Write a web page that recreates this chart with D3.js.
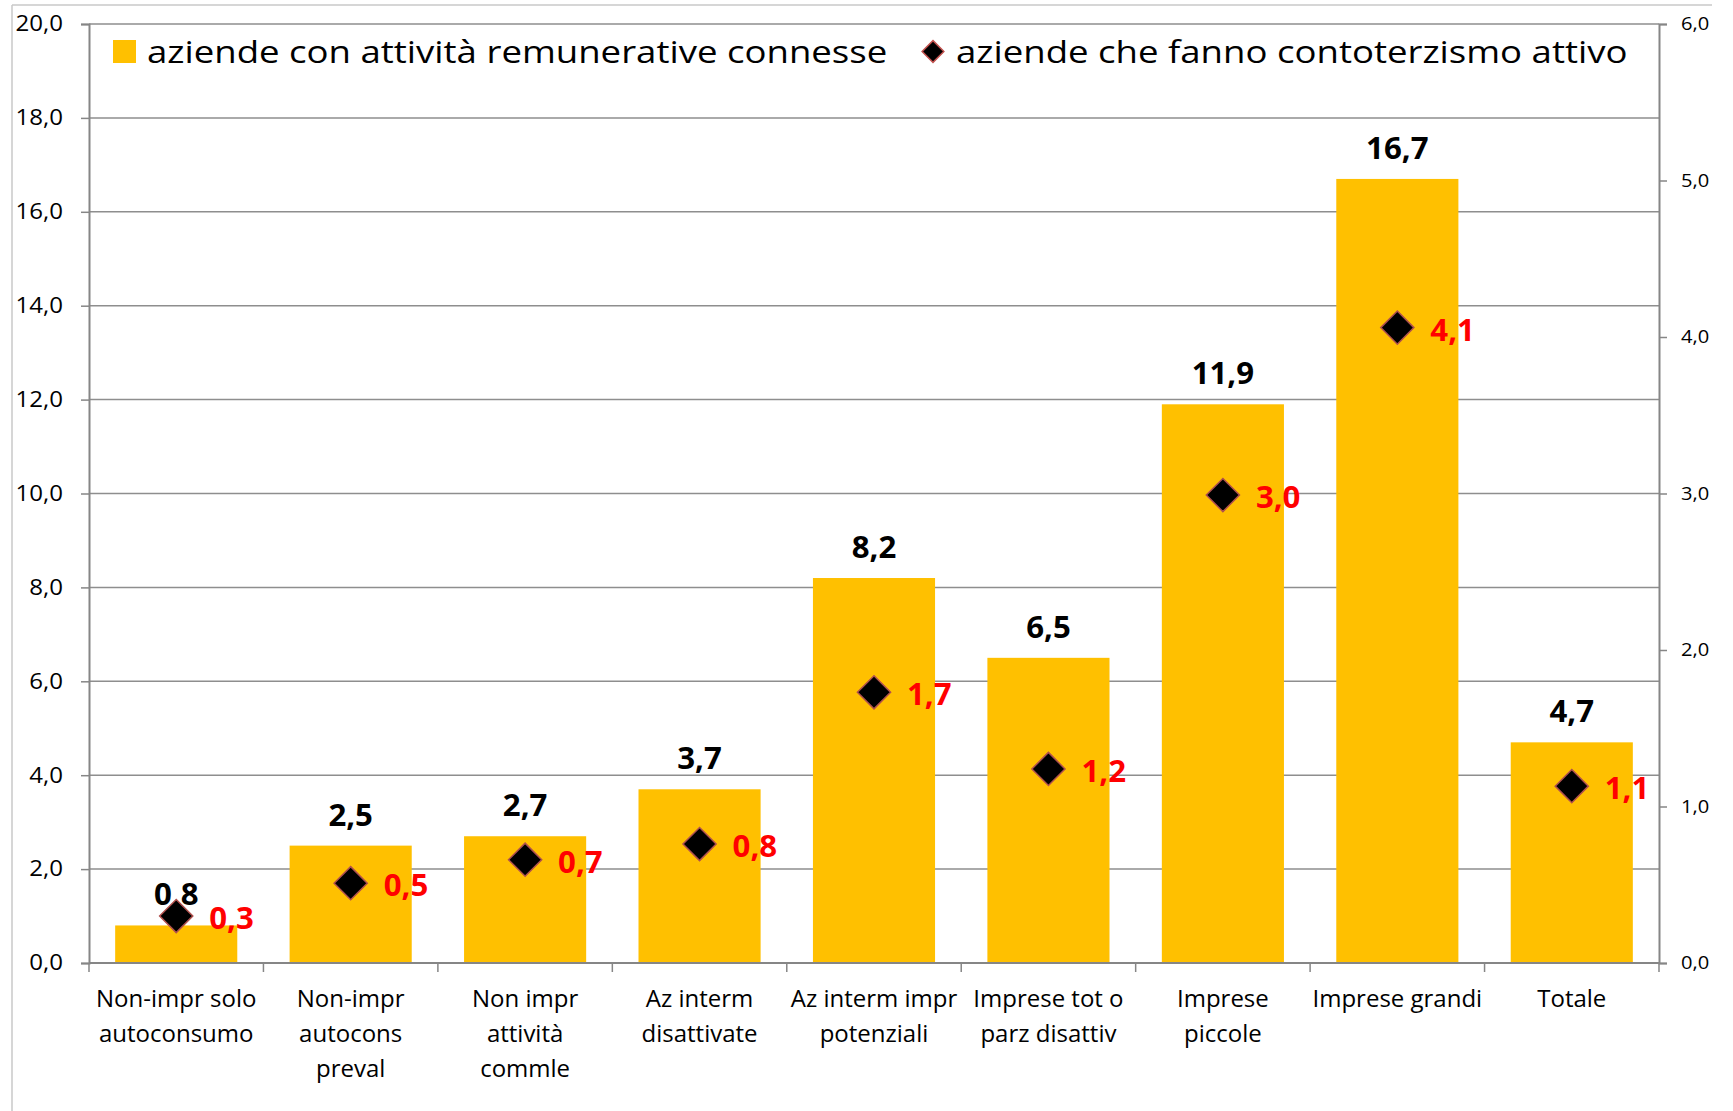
<!DOCTYPE html>
<html>
<head>
<meta charset="utf-8">
<script src="https://cdn.jsdelivr.net/npm/d3@7"></script>
<style>
  body { margin: 0; background: #fff; }
  text { font-family: "Open Sans", "Noto Sans", sans-serif; }
</style>
</head>
<body>
<svg id="chart" width="1733" height="1111"></svg>
<script>
var categories = [
  ["Non-impr solo", "autoconsumo"],
  ["Non-impr", "autocons", "preval"],
  ["Non impr", "attività", "commle"],
  ["Az interm", "disattivate"],
  ["Az interm impr", "potenziali"],
  ["Imprese tot o", "parz disattiv"],
  ["Imprese", "piccole"],
  ["Imprese grandi"],
  ["Totale"]
];
var remunerative = [0.8, 2.5, 2.7, 3.7, 8.2, 6.5, 11.9, 16.7, 4.7];
var contoterzismo = [0.30, 0.51, 0.66, 0.76, 1.73, 1.24, 2.99, 4.06, 1.13];
var leftTicks = [0, 2, 4, 6, 8, 10, 12, 14, 16, 18, 20];
var rightTicks = [0, 1, 2, 3, 4, 5, 6];
var seriesNames = ["aziende con attività remunerative connesse", "aziende che fanno contoterzismo attivo"];

(function () {
  var svg = d3.select("#chart");
  var pLeft = 89, pRight = 1659, pTop = 24, pBottom = 963;

  var fmt = function (v) { return v.toFixed(1).replace(".", ","); };

  // the reference text is drawn a bit wider than the font, so stretch it horizontally
  function stretch(sel, sx) {
    sel.each(function () {
      var t = d3.select(this);
      t.attr("x", (+t.attr("x") || 0) / sx).attr("transform", "scale(" + sx + ",1)");
    });
  }

  var x = d3.scaleBand()
    .domain(d3.range(categories.length))
    .range([pLeft, pRight])
    .paddingInner(0.3)
    .paddingOuter(0.15);
  var step = (pRight - pLeft) / categories.length;
  var center = function (i) { return x(i) + x.bandwidth() / 2; };

  var y = d3.scaleLinear().domain([0, 20]).range([pBottom, pTop]);
  var y2 = d3.scaleLinear().domain([0, 6]).range([pBottom, pTop]);

  // outer frame (only top and left edges visible)
  svg.append("line").attr("x1", 12).attr("x2", 1712).attr("y1", 5).attr("y2", 5)
    .attr("stroke", "#c8c8c8").attr("stroke-width", 1.5);
  svg.append("line").attr("x1", 12).attr("x2", 12).attr("y1", 5).attr("y2", 1111)
    .attr("stroke", "#c8c8c8").attr("stroke-width", 1.5);

  // gridlines
  svg.append("g").selectAll("line")
    .data(leftTicks.slice(1))
    .enter().append("line")
    .attr("x1", pLeft).attr("x2", pRight)
    .attr("y1", function (d) { return y(d); })
    .attr("y2", function (d) { return y(d); })
    .attr("stroke", "#8e8e8e").attr("stroke-width", 1.5);

  // left axis
  var axisL = svg.append("g")
    .attr("transform", "translate(" + pLeft + ",0)")
    .call(d3.axisLeft(y).tickValues(leftTicks).tickSize(8).tickPadding(18).tickFormat(fmt));
  axisL.select(".domain").attr("stroke", "#868686").attr("stroke-width", 2);
  axisL.selectAll(".tick line").attr("stroke", "#868686").attr("stroke-width", 1.5);
  axisL.selectAll("text").attr("font-size", 21.5).attr("fill", "#000")
    .attr("font-family", "'Open Sans', sans-serif").call(stretch, 1.12);

  // right axis
  var axisR = svg.append("g")
    .attr("transform", "translate(" + pRight + ",0)")
    .call(d3.axisRight(y2).tickValues(rightTicks).tickSize(8).tickPadding(14).tickFormat(fmt));
  axisR.select(".domain").attr("stroke", "#868686").attr("stroke-width", 2);
  axisR.selectAll(".tick line").attr("stroke", "#868686").attr("stroke-width", 1.5);
  axisR.selectAll("text").attr("font-size", 17.5).attr("fill", "#000")
    .attr("font-family", "'Open Sans', sans-serif").call(stretch, 1.15);

  // bars
  svg.append("g").selectAll("rect")
    .data(remunerative)
    .enter().append("rect")
    .attr("x", function (d, i) { return x(i); })
    .attr("width", x.bandwidth())
    .attr("y", function (d) { return y(d); })
    .attr("height", function (d) { return pBottom - y(d); })
    .attr("fill", "#ffc000");

  // x axis
  svg.append("line").attr("x1", pLeft).attr("x2", pRight).attr("y1", pBottom).attr("y2", pBottom)
    .attr("stroke", "#868686").attr("stroke-width", 2);
  svg.append("g").selectAll("line")
    .data(d3.range(categories.length + 1))
    .enter().append("line")
    .attr("x1", function (i) { return pLeft + i * step; })
    .attr("x2", function (i) { return pLeft + i * step; })
    .attr("y1", pBottom).attr("y2", pBottom + 9)
    .attr("stroke", "#868686").attr("stroke-width", 1.5);

  var xl = svg.append("g").selectAll("text")
    .data(categories)
    .enter().append("text")
    .attr("text-anchor", "middle")
    .attr("font-size", 24)
    .attr("fill", "#000");
  xl.selectAll("tspan")
    .data(function (d, i) { return d.map(function (s) { return {s: s, i: i}; }); })
    .enter().append("tspan")
    .attr("x", function (d) { return center(d.i); })
    .attr("y", function (d, j) { return 1007 + j * 35; })
    .text(function (d) { return d.s; });

  // bar value labels
  svg.append("g").selectAll("text")
    .data(remunerative)
    .enter().append("text")
    .attr("x", function (d, i) { return center(i); })
    .attr("y", function (d) { return y(d) - 20; })
    .attr("text-anchor", "middle")
    .attr("font-size", 30).attr("font-weight", 700).attr("fill", "#000")
    .text(fmt)
    .call(stretch, 1.04);

  // diamonds
  var diamond = d3.symbol().type(d3.symbolDiamond2).size(700);
  svg.append("g").selectAll("path")
    .data(contoterzismo)
    .enter().append("path")
    .attr("d", diamond)
    .attr("transform", function (d, i) { return "translate(" + center(i) + "," + y2(d) + ")"; })
    .attr("fill", "#000")
    .attr("stroke", "#b0504d").attr("stroke-width", 1.5);

  svg.append("g").selectAll("text")
    .data(contoterzismo)
    .enter().append("text")
    .attr("x", function (d, i) { return center(i) + 33; })
    .attr("y", function (d) { return y2(d) + 13; })
    .attr("font-size", 30).attr("font-weight", 700).attr("fill", "#ff0000")
    .text(fmt)
    .call(stretch, 1.04);

  // legend
  var lg = svg.append("g");
  lg.append("rect").attr("x", 113).attr("y", 40).attr("width", 23).attr("height", 23).attr("fill", "#ffc000");
  lg.append("text").attr("x", 147).attr("y", 63).attr("font-size", 31).attr("fill", "#000")
    .text(seriesNames[0]).call(stretch, 1.18);
  lg.append("path").attr("d", d3.symbol().type(d3.symbolDiamond2).size(300)())
    .attr("transform", "translate(933,51.5)")
    .attr("fill", "#000").attr("stroke", "#c0504d").attr("stroke-width", 1.5);
  lg.append("text").attr("x", 956).attr("y", 63).attr("font-size", 31).attr("fill", "#000")
    .text(seriesNames[1]).call(stretch, 1.18);
})();
</script>
</body>
</html>
